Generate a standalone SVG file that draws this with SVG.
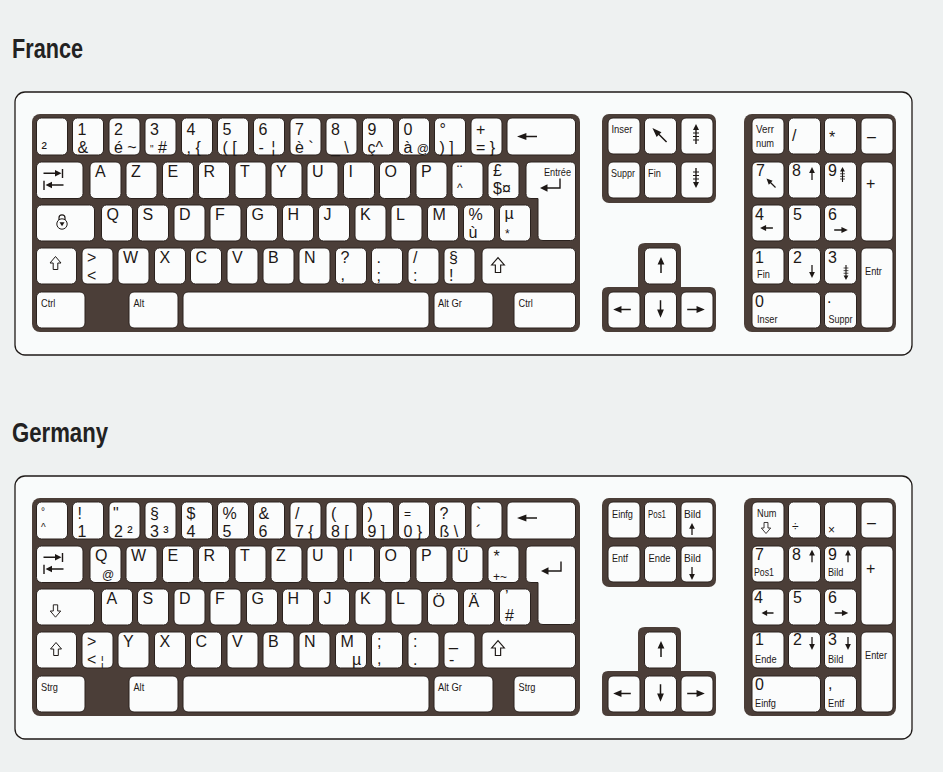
<svg xmlns="http://www.w3.org/2000/svg" width="943" height="772" viewBox="0 0 943 772">
<style>
.bg{fill:#eef1f1}
.frame{fill:#f9fbfb;stroke:#1f1a18;stroke-width:1.3}
.dk{fill:#4b3e38}
.k{fill:#fbfcfc;stroke:#2a211d;stroke-width:1}
text{font-family:"Liberation Sans",Arial,sans-serif;fill:#1d1816}
.ti{font-size:27px;font-weight:bold;fill:#222}
.c{font-size:16px}
.m{font-size:12px}
.x{font-size:10px}
.s{font-size:11.5px}
.ic{fill:#1d1816}
.io{fill:#fbfcfc;stroke:#1d1816;stroke-width:1}
.ln{fill:none;stroke:#1d1816;stroke-width:1.4}
.bar{fill:none;stroke:#1d1816;stroke-width:1}
</style>
<defs>
<path id="au" d="M0,-8 L3.4,-0.5 L0.75,-0.5 L0.75,8 L-0.75,8 L-0.75,-0.5 L-3.4,-0.5 Z"/>
<g id="pu"><path d="M0,-10 L3,-4 L0.7,-4 L0.7,10 L-0.7,10 L-0.7,-4 L-3,-4 Z"/><path class="bar" d="M-3,-1 H3 M-3,2.5 H3 M-3,6 H3"/></g>
<path id="sh" d="M0,-6.5 L5.5,0 L2.3,0 L2.3,6.5 L-2.3,6.5 L-2.3,0 L-5.5,0 Z"/>
<g id="tab"><path class="ln" d="M7,11.3 H20 M26,7 V16 M27,23 H14 M7.5,18.7 V28"/><path d="M25,11.3 L18.5,8 L18.5,14.6 Z M9,23 L15.5,19.7 L15.5,26.3 Z"/></g>
<g id="ent"><path class="ln" d="M34,16.5 V26 H20"/><path d="M14,26 L21.5,22.3 L21.5,29.7 Z"/></g>
<g id="lock"><path class="ln" style="stroke-width:1.2" d="M22.5,15 V12.8 A3,3 0 0 1 28.5,12.8 V15"/><circle class="io" cx="25.5" cy="19" r="5.2"/><path d="M23,17.3 H28 L25.5,21.3 Z"/></g>
</defs>
<rect class="bg" x="0" y="0" width="943" height="772"/>

<g id="france">
<text class="ti" x="12" y="58" textLength="71" lengthAdjust="spacingAndGlyphs">France</text>
<rect class="frame" x="15" y="92" width="897" height="263" rx="10"/>
<g id="fr-main">
<rect class="dk" x="32" y="114" width="548" height="218" rx="8"/>
<g id="fr-sup2"><rect class="k" x="36.5" y="118" width="31" height="37" rx="5"/><text class="c" x="41.5" y="153">²</text></g>
<g id="fr-1"><rect class="k" x="72.5" y="118" width="31" height="37" rx="5"/><text class="c" x="77.5" y="135">1</text><text class="c" x="77.5" y="153">&amp;</text></g>
<g id="fr-2"><rect class="k" x="109" y="118" width="31" height="37" rx="5"/><text class="c" x="114" y="135">2</text><text class="c" x="114" y="153">é ~</text></g>
<g id="fr-3"><rect class="k" x="145" y="118" width="31" height="37" rx="5"/><text class="c" x="150" y="135">3</text><text class="c" x="150" y="153"><tspan class="x">"</tspan> #</text></g>
<g id="fr-4"><rect class="k" x="181.5" y="118" width="31" height="37" rx="5"/><text class="c" x="186.5" y="135">4</text><text class="c" x="186.5" y="153">, {</text></g>
<g id="fr-5"><rect class="k" x="217.5" y="118" width="31" height="37" rx="5"/><text class="c" x="222.5" y="135">5</text><text class="c" x="222.5" y="153">( [</text></g>
<g id="fr-6"><rect class="k" x="253.5" y="118" width="31" height="37" rx="5"/><text class="c" x="258.5" y="135">6</text><text class="c" x="258.5" y="153">- <tspan dx="3">¦</tspan></text></g>
<g id="fr-7"><rect class="k" x="290" y="118" width="31" height="37" rx="5"/><text class="c" x="295" y="135">7</text><text class="c" x="295" y="153">è `</text></g>
<g id="fr-8"><rect class="k" x="326" y="118" width="31" height="37" rx="5"/><text class="c" x="331" y="135">8</text><text class="c" x="331" y="153">_ \</text></g>
<g id="fr-9"><rect class="k" x="362.5" y="118" width="31" height="37" rx="5"/><text class="c" x="367.5" y="135">9</text><text class="c" x="367.5" y="153">ç^</text></g>
<g id="fr-0"><rect class="k" x="398.5" y="118" width="31" height="37" rx="5"/><text class="c" x="403.5" y="135">0</text><text class="c" x="403.5" y="153">à <tspan class="m">@</tspan></text></g>
<g id="fr-deg"><rect class="k" x="434.5" y="118" width="31" height="37" rx="5"/><text class="c" x="439.5" y="135">°</text><text class="c" x="439.5" y="153">) ]</text></g>
<g id="fr-plus"><rect class="k" x="471" y="118" width="31" height="37" rx="5"/><text class="c" x="476" y="135">+</text><text class="c" x="476" y="153">= }</text></g>
<g id="fr-bksp"><rect class="k" x="507" y="118" width="68.5" height="37" rx="5"/><use href="#au" class="ic" transform="translate(527,136.5) rotate(-90) scale(1,1.25)"/></g>

<g id="fr-tab"><rect class="k" x="36.5" y="162" width="46.5" height="36.5" rx="5"/><use href="#tab" class="ic" transform="translate(36.5,162)"/></g>
<g id="fr-a"><rect class="k" x="90" y="162" width="31" height="36.5" rx="5"/><text class="c" x="95" y="177">A</text></g>
<g id="fr-z"><rect class="k" x="126" y="162" width="31" height="36.5" rx="5"/><text class="c" x="131" y="177">Z</text></g>
<g id="fr-e"><rect class="k" x="162.5" y="162" width="31" height="36.5" rx="5"/><text class="c" x="167.5" y="177">E</text></g>
<g id="fr-r"><rect class="k" x="198.5" y="162" width="31" height="36.5" rx="5"/><text class="c" x="203.5" y="177">R</text></g>
<g id="fr-t"><rect class="k" x="235" y="162" width="31" height="36.5" rx="5"/><text class="c" x="240" y="177">T</text></g>
<g id="fr-y"><rect class="k" x="271" y="162" width="31" height="36.5" rx="5"/><text class="c" x="276" y="177">Y</text></g>
<g id="fr-u"><rect class="k" x="307" y="162" width="31" height="36.5" rx="5"/><text class="c" x="312" y="177">U</text></g>
<g id="fr-i"><rect class="k" x="343.5" y="162" width="31" height="36.5" rx="5"/><text class="c" x="348.5" y="177">I</text></g>
<g id="fr-o"><rect class="k" x="379.5" y="162" width="31" height="36.5" rx="5"/><text class="c" x="384.5" y="177">O</text></g>
<g id="fr-p"><rect class="k" x="416" y="162" width="31" height="36.5" rx="5"/><text class="c" x="421" y="177">P</text></g>
<g id="fr-uml"><rect class="k" x="452" y="162" width="31" height="36.5" rx="5"/><text class="c" x="457" y="177">¨</text><text class="m" x="457" y="192">^</text></g>
<g id="fr-pound"><rect class="k" x="488" y="162" width="31" height="36.5" rx="5"/><text class="c" x="493" y="176">£</text><text class="c" x="493" y="194">$¤</text></g>
<g id="fr-enter"><path class="k" d="M531,162 H570.5 Q575.5,162 575.5,167 V235.5 Q575.5,240.5 570.5,240.5 H543 Q538,240.5 538,235.5 V198.5 H531 Q526,198.5 526,193.5 V167 Q526,162 531,162 Z"/><text class="s" x="571" y="176" text-anchor="end" textLength="27" lengthAdjust="spacingAndGlyphs">Entrée</text><use href="#ent" class="ic" transform="translate(526,162)"/></g>

<g id="fr-caps"><rect class="k" x="36.5" y="205" width="58" height="36" rx="5"/><use href="#lock" class="ic" transform="translate(36.5,205)"/></g>
<g id="fr-q"><rect class="k" x="101.5" y="205" width="31" height="36" rx="5"/><text class="c" x="106.5" y="220">Q</text></g>
<g id="fr-s"><rect class="k" x="137.5" y="205" width="31" height="36" rx="5"/><text class="c" x="142.5" y="220">S</text></g>
<g id="fr-d"><rect class="k" x="174" y="205" width="31" height="36" rx="5"/><text class="c" x="179" y="220">D</text></g>
<g id="fr-f"><rect class="k" x="210" y="205" width="31" height="36" rx="5"/><text class="c" x="215" y="220">F</text></g>
<g id="fr-g"><rect class="k" x="246.5" y="205" width="31" height="36" rx="5"/><text class="c" x="251.5" y="220">G</text></g>
<g id="fr-h"><rect class="k" x="282.5" y="205" width="31" height="36" rx="5"/><text class="c" x="287.5" y="220">H</text></g>
<g id="fr-j"><rect class="k" x="318.5" y="205" width="31" height="36" rx="5"/><text class="c" x="323.5" y="220">J</text></g>
<g id="fr-k"><rect class="k" x="355" y="205" width="31" height="36" rx="5"/><text class="c" x="360" y="220">K</text></g>
<g id="fr-l"><rect class="k" x="391" y="205" width="31" height="36" rx="5"/><text class="c" x="396" y="220">L</text></g>
<g id="fr-m"><rect class="k" x="427.5" y="205" width="31" height="36" rx="5"/><text class="c" x="432.5" y="220">M</text></g>
<g id="fr-pct"><rect class="k" x="463.5" y="205" width="31" height="36" rx="5"/><text class="c" x="468.5" y="220">%</text><text class="c" x="468.5" y="238">ù</text></g>
<g id="fr-mu"><rect class="k" x="499.5" y="205" width="31" height="36" rx="5"/><text class="c" x="504.5" y="219">µ</text><text class="m" x="505" y="238">*</text></g>

<g id="fr-lshift"><rect class="k" x="36.5" y="248" width="40" height="36" rx="5"/><use href="#sh" class="io" transform="translate(55.5,263)"/></g>
<g id="fr-lt"><rect class="k" x="82" y="248" width="31" height="36" rx="5"/><text class="c" x="87" y="263">&gt;</text><text class="c" x="87" y="281">&lt;</text></g>
<g id="fr-w"><rect class="k" x="118" y="248" width="31" height="36" rx="5"/><text class="c" x="123" y="263">W</text></g>
<g id="fr-x"><rect class="k" x="154.5" y="248" width="31" height="36" rx="5"/><text class="c" x="159.5" y="263">X</text></g>
<g id="fr-c"><rect class="k" x="190.5" y="248" width="31" height="36" rx="5"/><text class="c" x="195.5" y="263">C</text></g>
<g id="fr-v"><rect class="k" x="227" y="248" width="31" height="36" rx="5"/><text class="c" x="232" y="263">V</text></g>
<g id="fr-b"><rect class="k" x="263" y="248" width="31" height="36" rx="5"/><text class="c" x="268" y="263">B</text></g>
<g id="fr-n"><rect class="k" x="299" y="248" width="31" height="36" rx="5"/><text class="c" x="304" y="263">N</text></g>
<g id="fr-qm"><rect class="k" x="335.5" y="248" width="31" height="36" rx="5"/><text class="c" x="340.5" y="263">?</text><text class="c" x="340.5" y="280">,</text></g>
<g id="fr-semi"><rect class="k" x="371.5" y="248" width="31" height="36" rx="5"/><text class="c" x="376.5" y="263">.</text><text class="c" x="376.5" y="281">;</text></g>
<g id="fr-slash"><rect class="k" x="408" y="248" width="31" height="36" rx="5"/><text class="c" x="413" y="263">/</text><text class="c" x="413" y="281">:</text></g>
<g id="fr-sect"><rect class="k" x="444" y="248" width="31" height="36" rx="5"/><text class="c" x="449" y="263">§</text><text class="c" x="449" y="281">!</text></g>
<g id="fr-rshift"><rect class="k" x="482" y="248" width="93.5" height="36" rx="5"/><use href="#sh" class="io" transform="translate(498,265) scale(1.15)"/></g>

<g id="fr-lctrl"><rect class="k" x="36.5" y="292" width="48.5" height="36" rx="5"/><text class="s" x="41" y="307" textLength="14.3" lengthAdjust="spacingAndGlyphs">Ctrl</text></g>
<g id="fr-alt"><rect class="k" x="129" y="292" width="49" height="36" rx="5"/><text class="s" x="133.5" y="307" textLength="10.7" lengthAdjust="spacingAndGlyphs">Alt</text></g>
<g id="fr-space"><rect class="k" x="183" y="292" width="246" height="36" rx="5"/></g>
<g id="fr-altgr"><rect class="k" x="434" y="292" width="59" height="36" rx="5"/><text class="s" x="438" y="307" textLength="24" lengthAdjust="spacingAndGlyphs">Alt Gr</text></g>
<g id="fr-rctrl"><rect class="k" x="514" y="292" width="61.5" height="36" rx="5"/><text class="s" x="518.5" y="307" textLength="14.3" lengthAdjust="spacingAndGlyphs">Ctrl</text></g>
</g>

<g id="fr-nav">
<rect class="dk" x="602" y="114" width="114" height="89" rx="7"/>
<g id="fr-ins"><rect class="k" x="608" y="118" width="32" height="36" rx="5"/><text class="s" x="611.5" y="133" textLength="21" lengthAdjust="spacingAndGlyphs">Inser</text></g>
<g id="fr-home"><rect class="k" x="644.5" y="118" width="32" height="36" rx="5"/><use href="#au" class="ic" transform="translate(659.5,135) rotate(-45) scale(1,1.25)"/></g>
<g id="fr-pgup"><rect class="k" x="681" y="118" width="32" height="36" rx="5"/><use href="#pu" class="ic" transform="translate(696,134)"/></g>
<g id="fr-del"><rect class="k" x="608" y="162" width="32" height="36" rx="5"/><text class="s" x="611" y="177" textLength="24" lengthAdjust="spacingAndGlyphs">Suppr</text></g>
<g id="fr-end"><rect class="k" x="644.5" y="162" width="32" height="36" rx="5"/><text class="s" x="648" y="177" textLength="12.8" lengthAdjust="spacingAndGlyphs">Fin</text></g>
<g id="fr-pgdn"><rect class="k" x="681" y="162" width="32" height="36" rx="5"/><use href="#pu" class="ic" transform="translate(696,178) rotate(180)"/></g>
</g>

<g id="fr-arrows">
<path class="dk" d="M645,243 H675 Q681,243 681,249 V287 H710 Q716,287 716,293 V326 Q716,332 710,332 H608 Q602,332 602,326 V293 Q602,287 608,287 H638 V249 Q638,243 645,243 Z"/>
<g id="fr-up"><rect class="k" x="644.5" y="248" width="32" height="36" rx="5"/><use href="#au" class="ic" transform="translate(661,265)"/></g>
<g id="fr-left"><rect class="k" x="608" y="292" width="32" height="36" rx="5"/><use href="#au" class="ic" transform="translate(622,309.5) rotate(-90) scale(1,1.1)"/></g>
<g id="fr-down"><rect class="k" x="644.5" y="292" width="32" height="36" rx="5"/><use href="#au" class="ic" transform="translate(660.5,309) rotate(180) scale(1,1.1)"/></g>
<g id="fr-right"><rect class="k" x="681" y="292" width="32" height="36" rx="5"/><use href="#au" class="ic" transform="translate(696,309.5) rotate(90) scale(1,1.1)"/></g>
</g>

<g id="fr-num">
<rect class="dk" x="744" y="114" width="152" height="218" rx="8"/>
<g id="fr-numlock"><rect class="k" x="752" y="118" width="32" height="36" rx="5"/><text class="s" x="756" y="133" textLength="18" lengthAdjust="spacingAndGlyphs">Verr</text><text class="s" x="756" y="147" textLength="18" lengthAdjust="spacingAndGlyphs">num</text></g>
<g id="fr-ndiv"><rect class="k" x="788.5" y="118" width="32" height="36" rx="5"/><text class="c" x="792" y="141">/</text></g>
<g id="fr-nmul"><rect class="k" x="824.5" y="118" width="32" height="36" rx="5"/><text class="c" x="829" y="143">*</text></g>
<g id="fr-nsub"><rect class="k" x="861" y="118" width="32" height="36" rx="5"/><text class="c" x="867" y="141.5">–</text></g>
<g id="fr-n7"><rect class="k" x="752" y="162" width="32" height="36" rx="5"/><text class="c" x="756" y="176">7</text><use href="#au" class="ic" transform="translate(771,183) rotate(-45) scale(0.8)"/></g>
<g id="fr-n8"><rect class="k" x="788.5" y="162" width="32" height="36" rx="5"/><text class="c" x="792" y="176">8</text><use href="#au" class="ic" transform="translate(812,173.5) scale(0.85,0.8)"/></g>
<g id="fr-n9"><rect class="k" x="824.5" y="162" width="32" height="36" rx="5"/><text class="c" x="828" y="176">9</text><use href="#pu" class="ic" transform="translate(842.5,174.5) scale(0.8,0.75)"/></g>
<g id="fr-nadd"><rect class="k" x="861" y="162" width="32" height="79" rx="5"/><text class="c" x="866" y="189">+</text></g>
<g id="fr-n4"><rect class="k" x="752" y="205" width="32" height="36" rx="5"/><text class="c" x="755" y="220">4</text><use href="#au" class="ic" transform="translate(766.5,228) rotate(-90) scale(0.85,0.8)"/></g>
<g id="fr-n5"><rect class="k" x="788.5" y="205" width="32" height="36" rx="5"/><text class="c" x="793" y="220">5</text></g>
<g id="fr-n6"><rect class="k" x="824.5" y="205" width="32" height="36" rx="5"/><text class="c" x="828" y="220">6</text><use href="#au" class="ic" transform="translate(841,230) rotate(90) scale(0.85,0.85)"/></g>
<g id="fr-n1"><rect class="k" x="752" y="248" width="32" height="36" rx="5"/><text class="c" x="755" y="263">1</text><text class="s" x="757" y="278" textLength="12.8" lengthAdjust="spacingAndGlyphs">Fin</text></g>
<g id="fr-n2"><rect class="k" x="788.5" y="248" width="32" height="36" rx="5"/><text class="c" x="793" y="263">2</text><use href="#au" class="ic" transform="translate(812,271.5) rotate(180) scale(0.85,0.8)"/></g>
<g id="fr-n3"><rect class="k" x="824.5" y="248" width="32" height="36" rx="5"/><text class="c" x="828" y="263">3</text><use href="#pu" class="ic" transform="translate(846,272.5) rotate(180) scale(0.8,0.75)"/></g>
<g id="fr-nent"><rect class="k" x="861" y="248" width="32" height="80" rx="5"/><text class="s" x="865" y="275" textLength="16.9" lengthAdjust="spacingAndGlyphs">Entr</text></g>
<g id="fr-n0"><rect class="k" x="752" y="292" width="68.5" height="36" rx="5"/><text class="c" x="755" y="307">0</text><text class="s" x="757" y="323" textLength="20.5" lengthAdjust="spacingAndGlyphs">Inser</text></g>
<g id="fr-ndot"><rect class="k" x="824.5" y="292" width="32" height="36" rx="5"/><text class="c" x="827" y="303">.</text><text class="s" x="828.5" y="323" textLength="24" lengthAdjust="spacingAndGlyphs">Suppr</text></g>
</g>
</g>

<g id="germany" transform="translate(0,384)">
<text class="ti" x="12" y="58" textLength="96" lengthAdjust="spacingAndGlyphs">Germany</text>
<rect class="frame" x="15" y="92" width="897" height="263" rx="10"/>
<g id="de-main">
<rect class="dk" x="32" y="114" width="548" height="218" rx="8"/>
<g id="de-circ"><rect class="k" x="36.5" y="118" width="31" height="37" rx="5"/><text class="x" x="41" y="131">°</text><text class="x" x="41" y="147">^</text></g>
<g id="de-1"><rect class="k" x="72.5" y="118" width="31" height="37" rx="5"/><text class="c" x="77.5" y="135">!</text><text class="c" x="77.5" y="153">1</text></g>
<g id="de-2"><rect class="k" x="109" y="118" width="31" height="37" rx="5"/><text class="c" x="113" y="135">"</text><text class="c" x="114" y="153">2 ²</text></g>
<g id="de-3"><rect class="k" x="145" y="118" width="31" height="37" rx="5"/><text class="c" x="150" y="135">§</text><text class="c" x="150" y="153">3 ³</text></g>
<g id="de-4"><rect class="k" x="181.5" y="118" width="31" height="37" rx="5"/><text class="c" x="186.5" y="135">$</text><text class="c" x="186.5" y="153">4</text></g>
<g id="de-5"><rect class="k" x="217.5" y="118" width="31" height="37" rx="5"/><text class="c" x="222.5" y="135">%</text><text class="c" x="222.5" y="153">5</text></g>
<g id="de-6"><rect class="k" x="253.5" y="118" width="31" height="37" rx="5"/><text class="c" x="258.5" y="135">&amp;</text><text class="c" x="258.5" y="153">6</text></g>
<g id="de-7"><rect class="k" x="290" y="118" width="31" height="37" rx="5"/><text class="c" x="295" y="135">/</text><text class="c" x="295" y="153">7 {</text></g>
<g id="de-8"><rect class="k" x="326" y="118" width="31" height="37" rx="5"/><text class="c" x="331" y="135">(</text><text class="c" x="331" y="153">8 [</text></g>
<g id="de-9"><rect class="k" x="362.5" y="118" width="31" height="37" rx="5"/><text class="c" x="367.5" y="135">)</text><text class="c" x="367.5" y="153">9 ]</text></g>
<g id="de-0"><rect class="k" x="398.5" y="118" width="31" height="37" rx="5"/><text class="m" x="404" y="134">=</text><text class="c" x="403.5" y="153">0 }</text></g>
<g id="de-sz"><rect class="k" x="434.5" y="118" width="31" height="37" rx="5"/><text class="c" x="439.5" y="135">?</text><text class="c" x="439.5" y="153">ß \</text></g>
<g id="de-acc"><rect class="k" x="471" y="118" width="31" height="37" rx="5"/><text class="c" x="476" y="135">`</text><text class="c" x="476" y="153">´</text></g>
<g id="de-bksp"><rect class="k" x="507" y="118" width="68.5" height="37" rx="5"/><use href="#au" class="ic" transform="translate(527,134) rotate(-90) scale(1,1.25)"/></g>

<g id="de-tab"><rect class="k" x="36.5" y="162" width="46.5" height="36.5" rx="5"/><use href="#tab" class="ic" transform="translate(36.5,162)"/></g>
<g id="de-q"><rect class="k" x="90" y="162" width="31" height="36.5" rx="5"/><text class="c" x="95" y="177">Q</text><text class="m" x="102" y="195">@</text></g>
<g id="de-w"><rect class="k" x="126" y="162" width="31" height="36.5" rx="5"/><text class="c" x="131" y="177">W</text></g>
<g id="de-e"><rect class="k" x="162.5" y="162" width="31" height="36.5" rx="5"/><text class="c" x="167.5" y="177">E</text></g>
<g id="de-r"><rect class="k" x="198.5" y="162" width="31" height="36.5" rx="5"/><text class="c" x="203.5" y="177">R</text></g>
<g id="de-t"><rect class="k" x="235" y="162" width="31" height="36.5" rx="5"/><text class="c" x="240" y="177">T</text></g>
<g id="de-z"><rect class="k" x="271" y="162" width="31" height="36.5" rx="5"/><text class="c" x="276" y="177">Z</text></g>
<g id="de-u"><rect class="k" x="307" y="162" width="31" height="36.5" rx="5"/><text class="c" x="312" y="177">U</text></g>
<g id="de-i"><rect class="k" x="343.5" y="162" width="31" height="36.5" rx="5"/><text class="c" x="348.5" y="177">I</text></g>
<g id="de-o"><rect class="k" x="379.5" y="162" width="31" height="36.5" rx="5"/><text class="c" x="384.5" y="177">O</text></g>
<g id="de-p"><rect class="k" x="416" y="162" width="31" height="36.5" rx="5"/><text class="c" x="421" y="177">P</text></g>
<g id="de-ue"><rect class="k" x="452" y="162" width="31" height="36.5" rx="5"/><text class="c" x="457" y="178">Ü</text></g>
<g id="de-plus"><rect class="k" x="488" y="162" width="31" height="36.5" rx="5"/><text class="c" x="493.5" y="178">*</text><text class="m" x="493" y="197">+~</text></g>
<g id="de-enter"><path class="k" d="M531,162 H570.5 Q575.5,162 575.5,167 V235.5 Q575.5,240.5 570.5,240.5 H543 Q538,240.5 538,235.5 V198.5 H531 Q526,198.5 526,193.5 V167 Q526,162 531,162 Z"/><use href="#ent" class="ic" transform="translate(527,161)"/></g>

<g id="de-caps"><rect class="k" x="36.5" y="205" width="58" height="36" rx="5"/><use href="#sh" class="io" transform="translate(55.5,227) rotate(180) scale(0.95)"/></g>
<g id="de-a"><rect class="k" x="101.5" y="205" width="31" height="36" rx="5"/><text class="c" x="106.5" y="220">A</text></g>
<g id="de-s"><rect class="k" x="137.5" y="205" width="31" height="36" rx="5"/><text class="c" x="142.5" y="220">S</text></g>
<g id="de-d"><rect class="k" x="174" y="205" width="31" height="36" rx="5"/><text class="c" x="179" y="220">D</text></g>
<g id="de-f"><rect class="k" x="210" y="205" width="31" height="36" rx="5"/><text class="c" x="215" y="220">F</text></g>
<g id="de-g"><rect class="k" x="246.5" y="205" width="31" height="36" rx="5"/><text class="c" x="251.5" y="220">G</text></g>
<g id="de-h"><rect class="k" x="282.5" y="205" width="31" height="36" rx="5"/><text class="c" x="287.5" y="220">H</text></g>
<g id="de-j"><rect class="k" x="318.5" y="205" width="31" height="36" rx="5"/><text class="c" x="323.5" y="220">J</text></g>
<g id="de-k"><rect class="k" x="355" y="205" width="31" height="36" rx="5"/><text class="c" x="360" y="220">K</text></g>
<g id="de-l"><rect class="k" x="391" y="205" width="31" height="36" rx="5"/><text class="c" x="396" y="220">L</text></g>
<g id="de-oe"><rect class="k" x="427.5" y="205" width="31" height="36" rx="5"/><text class="c" x="432.5" y="223">Ö</text></g>
<g id="de-ae"><rect class="k" x="463.5" y="205" width="31" height="36" rx="5"/><text class="c" x="468.5" y="223">Ä</text></g>
<g id="de-hash"><rect class="k" x="499.5" y="205" width="31" height="36" rx="5"/><text class="c" x="505" y="218">’</text><text class="c" x="505" y="237">#</text></g>

<g id="de-lshift"><rect class="k" x="36.5" y="248" width="40" height="36" rx="5"/><use href="#sh" class="io" transform="translate(56,265)"/></g>
<g id="de-lt"><rect class="k" x="82" y="248" width="31" height="36" rx="5"/><text class="c" x="87" y="263">&gt;</text><text class="c" x="87" y="281">&lt; <tspan class="m">¦</tspan></text></g>
<g id="de-y"><rect class="k" x="118" y="248" width="31" height="36" rx="5"/><text class="c" x="123" y="263">Y</text></g>
<g id="de-x"><rect class="k" x="154.5" y="248" width="31" height="36" rx="5"/><text class="c" x="159.5" y="263">X</text></g>
<g id="de-c"><rect class="k" x="190.5" y="248" width="31" height="36" rx="5"/><text class="c" x="195.5" y="263">C</text></g>
<g id="de-v"><rect class="k" x="227" y="248" width="31" height="36" rx="5"/><text class="c" x="232" y="263">V</text></g>
<g id="de-b"><rect class="k" x="263" y="248" width="31" height="36" rx="5"/><text class="c" x="268" y="263">B</text></g>
<g id="de-n"><rect class="k" x="299" y="248" width="31" height="36" rx="5"/><text class="c" x="304" y="263">N</text></g>
<g id="de-m"><rect class="k" x="335.5" y="248" width="31" height="36" rx="5"/><text class="c" x="340.5" y="263">M</text><text class="c" x="352" y="281">µ</text></g>
<g id="de-comma"><rect class="k" x="371.5" y="248" width="31" height="36" rx="5"/><text class="c" x="377" y="263">;</text><text class="c" x="377" y="280">,</text></g>
<g id="de-dot"><rect class="k" x="408" y="248" width="31" height="36" rx="5"/><text class="c" x="413" y="263">:</text><text class="c" x="413" y="281">.</text></g>
<g id="de-minus"><rect class="k" x="444" y="248" width="31" height="36" rx="5"/><text class="c" x="449" y="262">_</text><text class="c" x="449" y="281">-</text></g>
<g id="de-rshift"><rect class="k" x="482" y="248" width="93.5" height="36" rx="5"/><use href="#sh" class="io" transform="translate(498,264) scale(1.15)"/></g>

<g id="de-lctrl"><rect class="k" x="36.5" y="292" width="48.5" height="36" rx="5"/><text class="s" x="41" y="307" textLength="16.9" lengthAdjust="spacingAndGlyphs">Strg</text></g>
<g id="de-alt"><rect class="k" x="129" y="292" width="49" height="36" rx="5"/><text class="s" x="133.5" y="307" textLength="10.7" lengthAdjust="spacingAndGlyphs">Alt</text></g>
<g id="de-space"><rect class="k" x="183" y="292" width="246" height="36" rx="5"/></g>
<g id="de-altgr"><rect class="k" x="434" y="292" width="59" height="36" rx="5"/><text class="s" x="438" y="307" textLength="24" lengthAdjust="spacingAndGlyphs">Alt Gr</text></g>
<g id="de-rctrl"><rect class="k" x="514" y="292" width="61.5" height="36" rx="5"/><text class="s" x="518.5" y="307" textLength="16.9" lengthAdjust="spacingAndGlyphs">Strg</text></g>
</g>

<g id="de-nav">
<rect class="dk" x="602" y="114" width="114" height="89" rx="7"/>
<g id="de-ins"><rect class="k" x="608" y="118" width="32" height="36" rx="5"/><text class="s" x="612" y="134" textLength="21" lengthAdjust="spacingAndGlyphs">Einfg</text></g>
<g id="de-home"><rect class="k" x="644.5" y="118" width="32" height="36" rx="5"/><text class="s" x="648" y="134" textLength="18" lengthAdjust="spacingAndGlyphs">Pos1</text></g>
<g id="de-pgup"><rect class="k" x="681" y="118" width="32" height="36" rx="5"/><text class="s" x="684" y="134" textLength="17" lengthAdjust="spacingAndGlyphs">Bild</text><use href="#au" class="ic" transform="translate(692,145) scale(0.85,0.75)"/></g>
<g id="de-del"><rect class="k" x="608" y="162" width="32" height="36" rx="5"/><text class="s" x="612" y="178" textLength="16" lengthAdjust="spacingAndGlyphs">Entf</text></g>
<g id="de-end"><rect class="k" x="644.5" y="162" width="32" height="36" rx="5"/><text class="s" x="648.5" y="178" textLength="22" lengthAdjust="spacingAndGlyphs">Ende</text></g>
<g id="de-pgdn"><rect class="k" x="681" y="162" width="32" height="36" rx="5"/><text class="s" x="684" y="178" textLength="17" lengthAdjust="spacingAndGlyphs">Bild</text><use href="#au" class="ic" transform="translate(692,189.5) rotate(180) scale(0.85,0.8)"/></g>
</g>

<g id="de-arrows">
<path class="dk" d="M645,243 H675 Q681,243 681,249 V287 H710 Q716,287 716,293 V326 Q716,332 710,332 H608 Q602,332 602,326 V293 Q602,287 608,287 H638 V249 Q638,243 645,243 Z"/>
<g id="de-up"><rect class="k" x="644.5" y="248" width="32" height="36" rx="5"/><use href="#au" class="ic" transform="translate(661,265)"/></g>
<g id="de-left"><rect class="k" x="608" y="292" width="32" height="36" rx="5"/><use href="#au" class="ic" transform="translate(622,309.5) rotate(-90) scale(1,1.1)"/></g>
<g id="de-down"><rect class="k" x="644.5" y="292" width="32" height="36" rx="5"/><use href="#au" class="ic" transform="translate(660.5,309) rotate(180) scale(1,1.1)"/></g>
<g id="de-right"><rect class="k" x="681" y="292" width="32" height="36" rx="5"/><use href="#au" class="ic" transform="translate(696,309.5) rotate(90) scale(1,1.1)"/></g>
</g>

<g id="de-num">
<rect class="dk" x="744" y="114" width="152" height="218" rx="8"/>
<g id="de-numlock"><rect class="k" x="752" y="118" width="32" height="36" rx="5"/><text class="s" x="757" y="133" textLength="19.4" lengthAdjust="spacingAndGlyphs">Num</text><use href="#sh" class="io" transform="translate(766,144) rotate(180) scale(0.85)"/></g>
<g id="de-ndiv"><rect class="k" x="788.5" y="118" width="32" height="36" rx="5"/><text class="m" x="792" y="147">÷</text></g>
<g id="de-nmul"><rect class="k" x="824.5" y="118" width="32" height="36" rx="5"/><text class="m" x="828" y="150">×</text></g>
<g id="de-nsub"><rect class="k" x="861" y="118" width="32" height="36" rx="5"/><text class="c" x="867" y="143.5">–</text></g>
<g id="de-n7"><rect class="k" x="752" y="162" width="32" height="36" rx="5"/><text class="c" x="755" y="176">7</text><text class="s" x="754" y="192" textLength="20" lengthAdjust="spacingAndGlyphs">Pos1</text></g>
<g id="de-n8"><rect class="k" x="788.5" y="162" width="32" height="36" rx="5"/><text class="c" x="792" y="176">8</text><use href="#au" class="ic" transform="translate(812,172) scale(0.85,0.78)"/></g>
<g id="de-n9"><rect class="k" x="824.5" y="162" width="32" height="36" rx="5"/><text class="c" x="828" y="176">9</text><use href="#au" class="ic" transform="translate(848,172) scale(0.85,0.78)"/><text class="s" x="828" y="192" textLength="15.3" lengthAdjust="spacingAndGlyphs">Bild</text></g>
<g id="de-nadd"><rect class="k" x="861" y="162" width="32" height="79" rx="5"/><text class="c" x="866" y="190">+</text></g>
<g id="de-n4"><rect class="k" x="752" y="205" width="32" height="36" rx="5"/><text class="c" x="754" y="219">4</text><use href="#au" class="ic" transform="translate(767.5,229) rotate(-90) scale(0.85,0.75)"/></g>
<g id="de-n5"><rect class="k" x="788.5" y="205" width="32" height="36" rx="5"/><text class="c" x="793" y="219">5</text></g>
<g id="de-n6"><rect class="k" x="824.5" y="205" width="32" height="36" rx="5"/><text class="c" x="828" y="219">6</text><use href="#au" class="ic" transform="translate(841.5,229) rotate(90) scale(0.85,0.85)"/></g>
<g id="de-n1"><rect class="k" x="752" y="248" width="32" height="36" rx="5"/><text class="c" x="755" y="261">1</text><text class="s" x="755" y="279" textLength="21.5" lengthAdjust="spacingAndGlyphs">Ende</text></g>
<g id="de-n2"><rect class="k" x="788.5" y="248" width="32" height="36" rx="5"/><text class="c" x="793" y="261">2</text><use href="#au" class="ic" transform="translate(812,259.5) rotate(180) scale(0.85,0.8)"/></g>
<g id="de-n3"><rect class="k" x="824.5" y="248" width="32" height="36" rx="5"/><text class="c" x="828" y="261">3</text><use href="#au" class="ic" transform="translate(848,259.5) rotate(180) scale(0.85,0.8)"/><text class="s" x="828" y="279" textLength="15.3" lengthAdjust="spacingAndGlyphs">Bild</text></g>
<g id="de-nent"><rect class="k" x="861" y="248" width="32" height="80" rx="5"/><text class="s" x="865" y="275" textLength="22" lengthAdjust="spacingAndGlyphs">Enter</text></g>
<g id="de-n0"><rect class="k" x="752" y="292" width="68.5" height="36" rx="5"/><text class="c" x="755" y="306">0</text><text class="s" x="755" y="323" textLength="21" lengthAdjust="spacingAndGlyphs">Einfg</text></g>
<g id="de-ncomma"><rect class="k" x="824.5" y="292" width="32" height="36" rx="5"/><text class="c" x="828" y="305">,</text><text class="s" x="828" y="323" textLength="16.4" lengthAdjust="spacingAndGlyphs">Entf</text></g>
</g>
</g>
</svg>
